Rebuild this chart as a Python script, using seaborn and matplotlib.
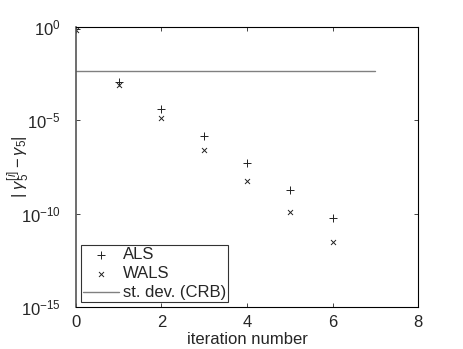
import matplotlib
matplotlib.use("Agg")
import matplotlib.pyplot as plt
import seaborn as sns
import pandas as pd

sns.set_theme(style="ticks")
plt.rcParams["font.family"] = ["Liberation Sans", "DejaVu Sans"]
plt.rcParams["mathtext.fontset"] = "custom"
plt.rcParams["mathtext.rm"] = "Liberation Sans"
plt.rcParams["mathtext.it"] = "Liberation Sans:italic"

# values
iterations = [0, 1, 2, 3, 4, 5, 6]
als_err = [0.75, 1.1e-3, 4.0e-5, 1.5e-6, 5.4e-8, 1.9e-9, 5.6e-11]
wals_err = [0.70, 7.5e-4, 1.4e-5, 2.5e-7, 5.9e-9, 1.3e-10, 3.2e-12]
crb_x = [0, 7]
crb_y = [4.4e-3, 4.4e-3]

df = pd.DataFrame({"it": iterations, "als": als_err, "wals": wals_err})

fig = plt.figure(figsize=(4.63, 3.49), dpi=100)
ax = fig.add_axes([0.164, 0.120, 0.739, 0.803])

sns.scatterplot(data=df, x="it", y="als", marker="+", s=26, color="#222222",
                linewidth=0.7, ax=ax, label="ALS")
sns.scatterplot(data=df, x="it", y="wals", marker="x", s=13, color="#222222",
                linewidth=0.7, ax=ax, label="WALS")
ax.plot(crb_x, crb_y, color="#808080", lw=1.0, label="st. dev. (CRB)")

ax.set_yscale("log")
ax.set_xlim(0, 8)
ax.set_ylim(1e-15, 1e0)
ax.set_xticks([0, 2, 4, 6, 8])
ax.set_yticks([1e-15, 1e-10, 1e-5, 1e0])
ax.yaxis.set_minor_locator(matplotlib.ticker.NullLocator())
ax.tick_params(direction="in", top=True, right=True, labelsize=12, length=3,
               width=0.6)
ax.tick_params(axis="x", pad=6)
ax.tick_params(axis="y", pad=11)
for sp in ax.spines.values():
    sp.set_linewidth(0.8)
    sp.set_color("black")
ax.spines["left"].set_color("#555555")
ax.spines["left"].set_linewidth(1.2)

ax.set_xlabel("iteration number", fontsize=12, labelpad=1)
ax.set_ylabel(r"$|\ \gamma_5^{[i]} - \gamma_5|$", fontsize=12)
ax.yaxis.set_label_coords(-0.128, 0.5)

leg = ax.legend(loc="lower left", fontsize=12, frameon=True, fancybox=False,
                edgecolor="black", borderpad=0.1, labelspacing=0.25,
                handlelength=2.2, handletextpad=0.2, borderaxespad=0.3)
leg.get_frame().set_linewidth(0.8)

fig.savefig("out.png", dpi=100)
